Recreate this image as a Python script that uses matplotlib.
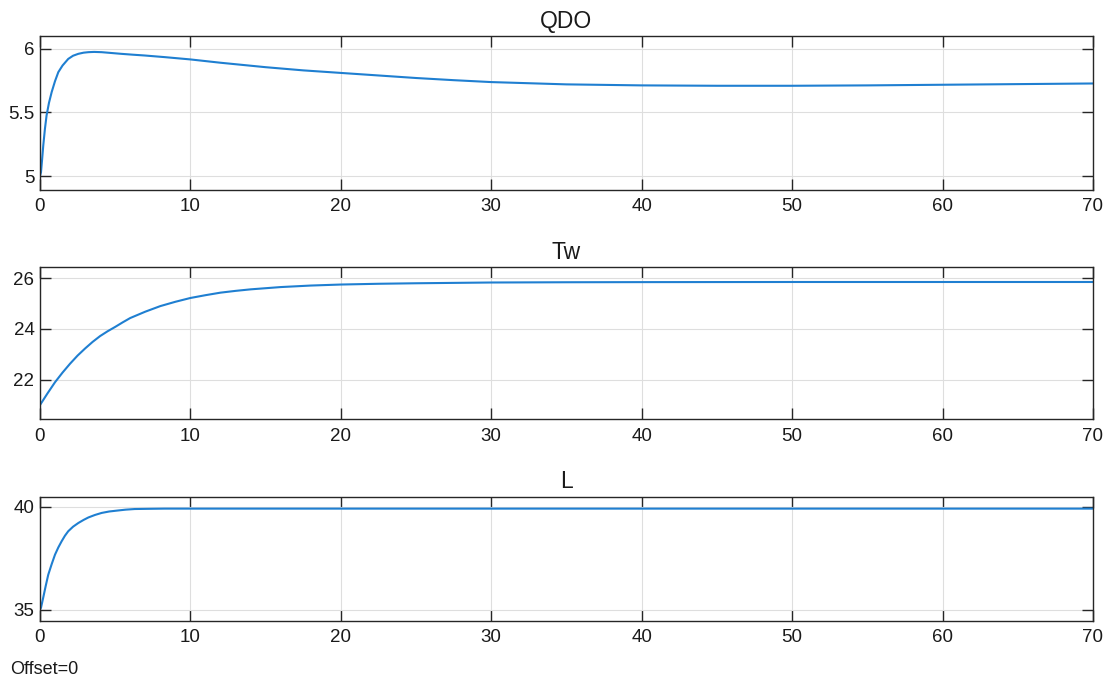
"""Scope-style figure: QDO, Tw and L against time."""

import matplotlib

matplotlib.use("Agg")
import matplotlib.pyplot as plt

plt.rcParams["font.family"] = ["Liberation Sans", "DejaVu Sans"]

LINE = "#1f7fd1"
AXIS = "#262626"

# values
t_qdo = [0, 0.07, 0.15, 0.22, 0.33, 0.44, 0.6, 0.78, 1.0, 1.22, 1.5, 1.88, 2.2, 2.55,
         2.9, 3.22, 3.6, 4.1, 4.7, 5.4, 6.2, 6.95, 8.3, 10, 12, 15, 17.5, 20, 22.5, 25,
         27.5, 30, 35, 40, 45, 50, 55, 60, 65, 70]
qdo = [5.0, 5.03, 5.14, 5.24, 5.37, 5.476, 5.575, 5.66, 5.745, 5.816, 5.868, 5.92,
       5.945, 5.96, 5.969, 5.973, 5.975, 5.973, 5.967, 5.96, 5.953, 5.947, 5.934, 5.916,
       5.89, 5.855, 5.83, 5.81, 5.79, 5.77, 5.753, 5.738, 5.72, 5.712, 5.709, 5.709,
       5.712, 5.717, 5.722, 5.727]

t_tw = [0, 0.5, 1, 1.5, 2, 2.5, 3, 3.5, 4, 4.5, 5, 5.5, 6, 7, 8, 9, 10, 11, 12, 13, 14,
        16, 18, 20, 22.5, 25, 30, 35, 40, 50, 60, 70]
tw = [21.0, 21.46, 21.9, 22.28, 22.63, 22.95, 23.23, 23.49, 23.72, 23.91, 24.08, 24.26,
      24.43, 24.68, 24.9, 25.07, 25.22, 25.33, 25.43, 25.5, 25.56, 25.65, 25.71, 25.75,
      25.78, 25.8, 25.83, 25.84, 25.845, 25.85, 25.85, 25.85]

t_l = [0, 0.07, 0.22, 0.38, 0.55, 0.78, 1.0, 1.22, 1.44, 1.66, 1.88, 2.2, 2.55, 2.9,
       3.22, 3.65, 4.1, 4.6, 5.2, 5.7, 6.3, 7.2, 8.3, 10, 20, 30, 40, 50, 60, 70]
l_vals = [35.0, 35.1, 35.6, 36.15, 36.7, 37.22, 37.68, 38.03, 38.33, 38.6, 38.82, 39.04,
          39.22, 39.37, 39.49, 39.61, 39.71, 39.78, 39.83, 39.87, 39.9, 39.91, 39.92,
          39.92, 39.92, 39.92, 39.92, 39.92, 39.92, 39.92]

titles = ["QDO", "Tw", "L"]
x_ticks = [0, 10, 20, 30, 40, 50, 60, 70]
y_ticks = [[5, 5.5, 6], [22, 24, 26], [35, 40]]
y_tick_labels = [["5", "5.5", "6"], ["22", "24", "26"], ["35", "40"]]
y_limits = [(4.89, 6.1), (20.44, 26.43), (34.45, 40.5)]

# axes boxes in figure fractions: left, bottom, width, height
boxes = [
    (0.0359, 0.7214, 0.9461, 0.2258),
    (0.0359, 0.3852, 0.9461, 0.2229),
    (0.0359, 0.0894, 0.9461, 0.1823),
]

fig = plt.figure(figsize=(11.13, 6.82), dpi=100)
series = [(t_qdo, qdo), (t_tw, tw), (t_l, l_vals)]
for box, (t, y), title, yt, ytl, ylim in zip(
    boxes, series, titles, y_ticks, y_tick_labels, y_limits
):
    ax = fig.add_axes(box)
    ax.plot(t, y, color=LINE, lw=1.5, solid_joinstyle="round")
    ax.set_xlim(0, 70)
    ax.set_ylim(*ylim)
    ax.set_xticks(x_ticks)
    ax.set_yticks(yt, ytl)
    ax.grid(True, color="#dedede", lw=0.8)
    ax.set_axisbelow(True)
    ax.tick_params(
        direction="in", length=8, width=1.0, color=AXIS, labelsize=13.5,
        top=True, right=True, labelcolor="#1a1a1a",
    )
    ax.tick_params(axis="x", pad=6)
    ax.tick_params(axis="y", pad=4)
    for spine in ax.spines.values():
        spine.set_color(AXIS)
        spine.set_linewidth(1.0)
    ax.set_title(title, fontsize=16.5, pad=6, color="#1a1a1a")

fig.text(0.009, 0.0176, "Offset=0", fontsize=13, color="#1a1a1a", va="center")
fig.savefig("out.png", dpi=100, facecolor="white")
